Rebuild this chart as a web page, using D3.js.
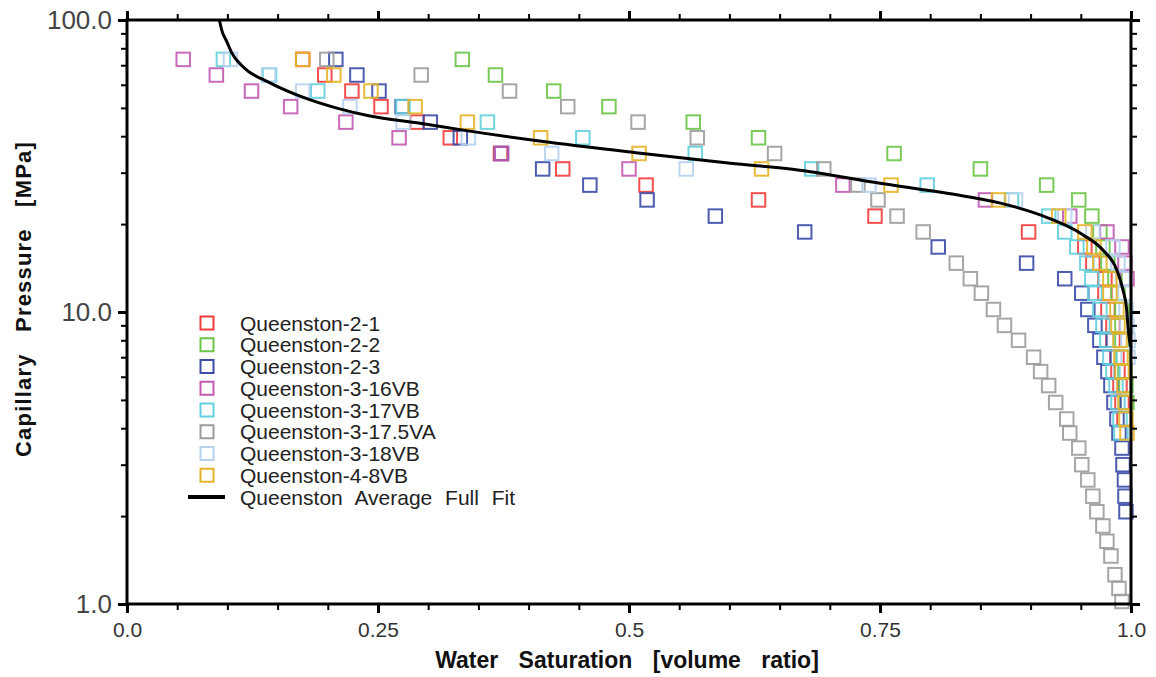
<!DOCTYPE html>
<html>
<head>
<meta charset="utf-8">
<script src="https://cdnjs.cloudflare.com/ajax/libs/d3/7.8.5/d3.min.js"></script>
<style>
  html, body { margin: 0; padding: 0; background: #fff; }
  svg { display: block; }
  text { font-family: "Liberation Sans", Arial, sans-serif; }
</style>
</head>
<body>
<svg id="chart" width="1156" height="677"></svg>
<script>
// ---------- DATA ----------
const seriesNames = [
  "Queenston-2-1", "Queenston-2-2", "Queenston-2-3", "Queenston-3-16VB",
  "Queenston-3-17VB", "Queenston-3-17.5VA", "Queenston-3-18VB", "Queenston-4-8VB"
];
const fitName = "Queenston Average Full Fit";
const seriesColors = ["#f23c3c", "#6cc448", "#3a4aa6", "#c25ab2", "#62cfdc", "#9c9c9c", "#b6d2ee", "#e6b428"];

// Queenston-2-1
const q21_sw = [0.175, 0.197, 0.224, 0.253, 0.289, 0.322, 0.372, 0.434, 0.517, 0.629, 0.745, 0.898, 0.954, 0.962, 0.974, 0.974, 0.977, 0.982, 0.982, 0.986, 0.987, 0.989, 0.991, 0.993];
const q21_pc = [73.3, 64.8, 57.1, 50.5, 44.7, 39.5, 34.9, 30.9, 27.2, 24.2, 21.3, 18.8, 16.7, 14.7, 13.0, 11.6, 10.2, 9.0, 8.0, 7.0, 6.25, 5.6, 4.9, 4.3];
// Queenston-2-2
const q22_sw = [0.334, 0.367, 0.425, 0.480, 0.564, 0.629, 0.764, 0.850, 0.916, 0.948, 0.961, 0.969, 0.972, 0.977, 0.984, 0.987, 0.991, 0.991, 0.991, 0.992, 0.994, 0.995, 0.996];
const q22_pc = [73.3, 64.8, 57.1, 50.5, 44.7, 39.5, 34.9, 30.9, 27.2, 24.2, 21.3, 18.8, 16.7, 14.7, 13.0, 11.6, 10.2, 9.0, 8.0, 7.0, 6.25, 5.6, 4.9];
// Queenston-2-3
const q23_sw = [0.208, 0.229, 0.251, 0.274, 0.302, 0.332, 0.373, 0.414, 0.461, 0.518, 0.586, 0.675, 0.808, 0.896, 0.934, 0.951, 0.957, 0.964, 0.969, 0.973, 0.977, 0.980, 0.983, 0.986, 0.988, 0.991, 0.992, 0.9935, 0.994, 0.995];
const q23_pc = [73.3, 64.8, 57.1, 50.5, 44.7, 39.5, 34.9, 30.9, 27.2, 24.2, 21.3, 18.8, 16.7, 14.7, 13.0, 11.6, 10.2, 9.0, 8.0, 7.0, 6.25, 5.6, 4.9, 4.3, 3.85, 3.42, 3.0, 2.66, 2.34, 2.07];
// Queenston-3-16VB
const q316_sw = [0.056, 0.089, 0.124, 0.163, 0.218, 0.271, 0.373, 0.500, 0.713, 0.855, 0.939, 0.976, 0.991, 0.994, 0.996];
const q316_pc = [73.3, 64.8, 57.1, 50.5, 44.7, 39.5, 34.9, 30.9, 27.2, 24.2, 21.3, 18.8, 16.7, 14.7, 13.0];
// Queenston-3-17VB
const q317_sw = [0.096, 0.142, 0.190, 0.275, 0.359, 0.454, 0.566, 0.682, 0.797, 0.881, 0.918, 0.934, 0.946, 0.956, 0.961, 0.964, 0.969, 0.972, 0.976, 0.979, 0.982, 0.985, 0.987, 0.989, 0.990];
const q317_pc = [73.3, 64.8, 57.1, 50.5, 44.7, 39.5, 34.9, 30.9, 27.2, 24.2, 21.3, 18.8, 16.7, 14.7, 13.0, 11.6, 10.2, 9.0, 8.0, 7.0, 6.25, 5.6, 4.9, 4.3, 3.85];
// Queenston-3-17.5VA
const q3175_sw = [0.199, 0.293, 0.381, 0.439, 0.509, 0.568, 0.645, 0.694, 0.728, 0.748, 0.767, 0.793, 0.826, 0.840, 0.851, 0.863, 0.874, 0.888, 0.903, 0.910, 0.918, 0.925, 0.936, 0.939, 0.948, 0.951, 0.957, 0.962, 0.966, 0.972, 0.976, 0.980, 0.984, 0.988, 0.991];
const q3175_pc = [73.3, 64.8, 57.1, 50.5, 44.7, 39.5, 34.9, 30.9, 27.2, 24.2, 21.3, 18.8, 14.7, 13.0, 11.6, 10.2, 9.0, 8.0, 7.0, 6.25, 5.6, 4.9, 4.3, 3.85, 3.42, 3.0, 2.66, 2.34, 2.07, 1.85, 1.64, 1.46, 1.26, 1.13, 1.02];
// Queenston-3-18VB
const q318_sw = [0.103, 0.141, 0.175, 0.222, 0.275, 0.340, 0.423, 0.557, 0.739, 0.885, 0.934, 0.962, 0.982, 0.987, 0.992, 0.994, 0.995, 0.996, 0.997, 0.997];
const q318_pc = [73.3, 64.8, 57.1, 50.5, 44.7, 39.5, 34.9, 30.9, 27.2, 24.2, 21.3, 18.8, 16.7, 14.7, 13.0, 11.6, 10.2, 9.0, 8.0, 7.0];
// Queenston-4-8VB
const q48_sw = [0.175, 0.206, 0.243, 0.287, 0.339, 0.412, 0.510, 0.632, 0.761, 0.868, 0.928, 0.954, 0.963, 0.969, 0.979, 0.979, 0.986, 0.987, 0.989, 0.990, 0.991, 0.993, 0.994, 0.995, 0.996];
const q48_pc = [73.3, 64.8, 57.1, 50.5, 44.7, 39.5, 34.9, 30.9, 27.2, 24.2, 21.3, 18.8, 16.7, 14.7, 13.0, 11.6, 10.2, 9.0, 8.0, 7.0, 6.25, 5.6, 4.9, 4.3, 3.85];

// Average full fit curve
const fit_sw = [0.092, 0.0945, 0.0993, 0.1045, 0.1155, 0.1424, 0.175, 0.209, 0.242, 0.292, 0.338, 0.411, 0.507, 0.601, 0.670, 0.750, 0.820, 0.870, 0.919, 0.952, 0.972, 0.986, 0.992, 0.9957, 0.9973, 0.9995];
const fit_pc = [100, 92, 84.5, 77, 69.2, 60.9, 54.4, 49.9, 46.9, 44.3, 41.8, 38.5, 35.1, 32.3, 30.6, 27.6, 25.4, 23.6, 20.9, 18.4, 16.3, 13.9, 11.9, 10.2, 8.67, 7.6];

const xTickLabels = ["0.0", "0.25", "0.5", "0.75", "1.0"];
const xMajorTicks = [0, 0.25, 0.5, 0.75, 1.0];
const yTickLabels = ["1.0", "10.0", "100.0"];
const yMajorTicks = [1, 10, 100];
const xTitle = "Water Saturation [volume ratio]";
const yTitle = "Capillary Pressure [MPa]";

// ---------- BUILD ----------
const swArrays = [q21_sw, q22_sw, q23_sw, q316_sw, q317_sw, q3175_sw, q318_sw, q48_sw];
const pcArrays = [q21_pc, q22_pc, q23_pc, q316_pc, q317_pc, q3175_pc, q318_pc, q48_pc];
const series = seriesNames.map((name, i) => ({
  name, color: seriesColors[i],
  points: swArrays[i].map((s, j) => ({ sw: s, pc: pcArrays[i][j] }))
}));
const fitPoints = fit_sw.map((s, j) => ({ sw: s, pc: fit_pc[j] }));

const L = 127, R = 1131, T = 20, B = 604;
const svg = d3.select("#chart");
const x = d3.scaleLinear().domain([0, 1]).range([L, R]);
const y = d3.scaleLog().domain([1, 100]).range([B, T]);

const xMinor = d3.range(0, 1.0001, 0.05).filter(v => !xMajorTicks.some(m => Math.abs(m - v) < 1e-6));
const yMinor = [];
[1, 10].forEach(d => { for (let k = 2; k <= 9; k++) yMinor.push(d * k); });

// markers
const size = 13.5;
const gPts = svg.append("g");
series.forEach(s => {
  gPts.append("g").selectAll("rect").data(s.points).join("rect")
    .attr("x", d => x(d.sw) - size / 2)
    .attr("y", d => y(d.pc) - size / 2)
    .attr("width", size).attr("height", size)
    .attr("fill", "none")
    .attr("stroke", s.color)
    .attr("stroke-width", 2)
    .attr("stroke-opacity", 0.9);
});

// fit line
svg.append("path")
  .datum(fitPoints)
  .attr("fill", "none")
  .attr("stroke", "#000")
  .attr("stroke-width", 3)
  .attr("d", d3.line().x(d => x(d.sw)).y(d => y(d.pc)).curve(d3.curveMonotoneX));

// axes helper
function styleAxis(g, w) {
  g.select(".domain").remove();
  g.selectAll(".tick line").attr("stroke", "#000").attr("stroke-width", w);
}
const fmtX = (d) => xTickLabels[xMajorTicks.indexOf(d)];
const fmtY = (d) => yTickLabels[yMajorTicks.indexOf(d)];

// bottom
svg.append("g").attr("transform", `translate(0,${B})`)
  .call(d3.axisBottom(x).tickValues(xMinor).tickSize(6).tickFormat(""))
  .call(g => styleAxis(g, 2));
svg.append("g").attr("transform", `translate(0,${B})`)
  .call(d3.axisBottom(x).tickValues(xMajorTicks).tickSize(9).tickPadding(9).tickFormat(fmtX))
  .call(g => styleAxis(g, 3))
  .call(g => g.selectAll("text").attr("font-size", 21).attr("fill", "#333"));
// top
svg.append("g").attr("transform", `translate(0,${T})`)
  .call(d3.axisTop(x).tickValues(xMinor).tickSize(6).tickFormat(""))
  .call(g => styleAxis(g, 2));
svg.append("g").attr("transform", `translate(0,${T})`)
  .call(d3.axisTop(x).tickValues(xMajorTicks).tickSize(9).tickFormat(""))
  .call(g => styleAxis(g, 3));
// left
svg.append("g").attr("transform", `translate(${L},0)`)
  .call(d3.axisLeft(y).tickValues(yMinor).tickSize(6).tickFormat(""))
  .call(g => styleAxis(g, 2));
svg.append("g").attr("transform", `translate(${L},0)`)
  .call(d3.axisLeft(y).tickValues(yMajorTicks).tickSize(9).tickPadding(6).tickFormat(fmtY))
  .call(g => styleAxis(g, 3))
  .call(g => g.selectAll("text").attr("font-size", 26).attr("fill", "#444"));
// right
svg.append("g").attr("transform", `translate(${R},0)`)
  .call(d3.axisRight(y).tickValues(yMinor).tickSize(6).tickFormat(""))
  .call(g => styleAxis(g, 2));
svg.append("g").attr("transform", `translate(${R},0)`)
  .call(d3.axisRight(y).tickValues(yMajorTicks).tickSize(9).tickFormat(""))
  .call(g => styleAxis(g, 3));

// frame
svg.append("rect").attr("x", L).attr("y", T).attr("width", R - L).attr("height", B - T)
  .attr("fill", "none").attr("stroke", "#000").attr("stroke-width", 3);

// titles
svg.append("text").attr("x", 627).attr("y", 668)
  .attr("text-anchor", "middle").attr("font-weight", "bold").attr("font-size", 23)
  .attr("word-spacing", 14).attr("fill", "#111").text(xTitle);
svg.append("text").attr("transform", `translate(31,299) rotate(-90)`)
  .attr("text-anchor", "middle").attr("font-weight", "bold").attr("font-size", 22)
  .attr("letter-spacing", 1.2).attr("word-spacing", 14).attr("fill", "#111").text(yTitle);

// legend
const lgX = 207, lgY0 = 323, lgDy = 21.75;
const lg = svg.append("g");
series.forEach((s, i) => {
  const cy = lgY0 + i * lgDy;
  lg.append("rect").attr("x", lgX - 6.5).attr("y", cy - 6.5).attr("width", 13).attr("height", 13)
    .attr("fill", "none").attr("stroke", s.color).attr("stroke-width", 2);
  lg.append("text").attr("x", 240).attr("y", cy + 7.5).attr("font-size", 21).attr("fill", "#222").text(s.name);
});
const fy = lgY0 + 8 * lgDy;
lg.append("line").attr("x1", 188).attr("x2", 225).attr("y1", fy).attr("y2", fy)
  .attr("stroke", "#000").attr("stroke-width", 4);
lg.append("text").attr("x", 240).attr("y", fy + 7.5).attr("font-size", 21).attr("word-spacing", 7)
  .attr("fill", "#222").text(fitName);
</script>
</body>
</html>
